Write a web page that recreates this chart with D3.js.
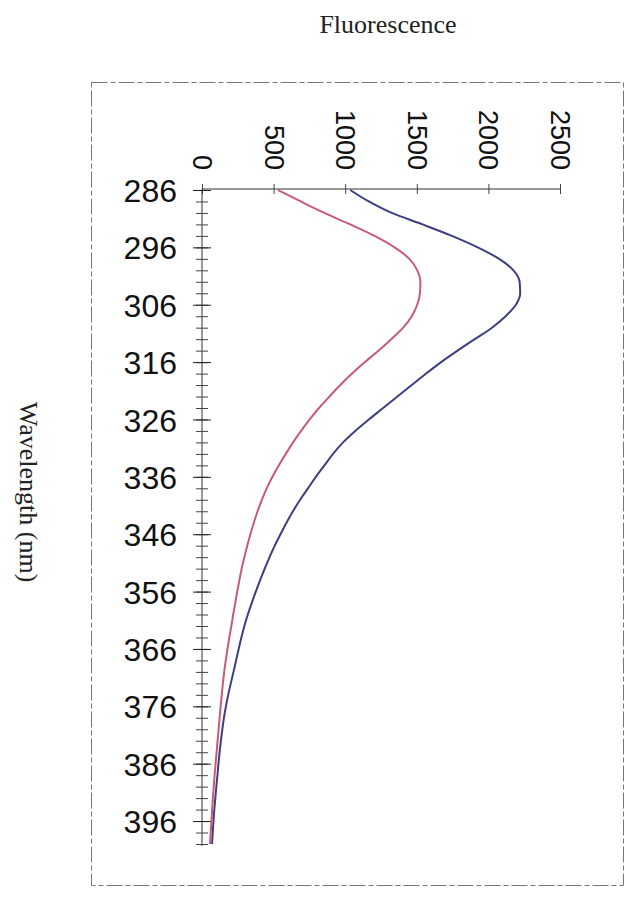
<!DOCTYPE html>
<html lang="en">
    <head>
        <meta charset="UTF-8" />
        <title>Fluorescence</title>
        <script src="https://d3js.org/d3.v7.min.js"></script>
        <style>
            body {
                margin: 0;
                background: #fff;
            }
            .tick-label {
                font-family: "Liberation Sans", Arial, sans-serif;
                fill: #111;
            }
            .axis-title {
                font-family: "Liberation Serif", "Times New Roman", serif;
                fill: #222;
            }
        </style>
    </head>
    <body>
        <svg id="chart" width="628" height="901"></svg>
        <script>
            // wavelength (nm), sampled every 2 nm
            const wavelengths = d3.range(286, 401, 2);

            // blue trace (upper)
            const blueValues = [
                1035, 1165, 1325, 1540, 1745, 1925, 2075, 2175, 2218, 2222,
                2192, 2120, 2025, 1905, 1785, 1670, 1565, 1465, 1365, 1265,
                1165, 1070, 985, 915, 855, 795, 740, 685, 635, 590,
                548, 508, 472, 438, 406, 376, 347, 320, 296, 275,
                256, 238, 220, 201, 183, 167, 153, 142, 132, 123,
                115, 108, 100, 93, 86, 80, 75, 70,
            ];

            // red trace (lower)
            const redValues = [
                531, 690, 855, 1035, 1205, 1345, 1448, 1503, 1525, 1522,
                1503, 1465, 1405, 1322, 1232, 1138, 1048, 966, 890, 817,
                752, 692, 636, 585, 537, 492, 452, 418, 388, 362,
                338, 316, 296, 277, 261, 246, 232, 218, 205, 191,
                178, 166, 155, 146, 138, 130, 123, 116, 109, 102,
                95, 88, 82, 76, 71, 66, 61, 56,
            ];

            const fluorTicks = [0, 500, 1000, 1500, 2000, 2500];
            const waveLabels = [286, 296, 306, 316, 326, 336, 346, 356, 366, 376, 386, 396];
            const waveMinor = d3.range(286, 401, 2);

            const svg = d3.select("#chart");

            // outer chart frame (scanned, broken line)
            svg.append("rect")
                .attr("x", 91.5)
                .attr("y", 82.5)
                .attr("width", 532)
                .attr("height", 803)
                .attr("fill", "none")
                .attr("stroke", "#777")
                .attr("stroke-width", 1)
                .attr("stroke-dasharray", "16 3 5 3");

            const x = d3.scaleLinear().domain([0, 2500]).range([202, 560]);
            const y = d3.scaleLinear().domain([286, 400]).range([190, 844]);

            // fluorescence axis along the top
            const xAxis = svg.append("g")
                .attr("transform", "translate(0,189)")
                .call(d3.axisTop(x).tickValues(fluorTicks).tickSize(5).tickFormat(""));
            xAxis.select(".domain").attr("stroke", "#333").attr("d", `M${x(0)},0H${x(2500)}`);
            xAxis.selectAll(".tick line").attr("y1", 5).attr("y2", -5).attr("stroke", "#444");

            xAxis.selectAll(".tick")
                .append("text")
                .attr("class", "tick-label")
                .attr("transform", "translate(0,-19) rotate(90)")
                .attr("text-anchor", "end")
                .attr("dy", "0.35em")
                .attr("fill", "#111")
                .style("font-size", "27px")
                .text((d) => d);

            // wavelength axis down the left
            const yMinor = svg.append("g")
                .attr("transform", "translate(202,0)")
                .call(d3.axisLeft(y).tickValues(waveMinor).tickSize(6).tickFormat(""));
            yMinor.select(".domain").attr("stroke", "#333").attr("d", `M0,${y(286) - 1}V${y(400) + 2}`);
            yMinor.selectAll(".tick line").attr("x1", -6).attr("x2", 6).attr("stroke", "#444");

            const yAxis = svg.append("g")
                .attr("transform", "translate(202,0)")
                .call(d3.axisLeft(y).tickValues(waveLabels).tickSize(0).tickPadding(25));
            yAxis.select(".domain").remove();
            yAxis.selectAll(".tick line")
                .attr("x1", -9)
                .attr("x2", 9)
                .attr("stroke", "#222");
            yAxis.selectAll(".tick text")
                .attr("class", "tick-label")
                .attr("fill", "#111")
                .style("font-size", "32px")
                .attr("dy", "0.36em");

            // traces
            const line = (vals) =>
                d3.line()
                    .x((d, i) => x(vals[i]))
                    .y((d) => y(d))
                    .curve(d3.curveMonotoneY)(wavelengths);

            svg.append("path")
                .attr("d", line(blueValues))
                .attr("fill", "none")
                .attr("stroke", "#3d3f82")
                .attr("stroke-width", 2);

            svg.append("path")
                .attr("d", line(redValues))
                .attr("fill", "none")
                .attr("stroke", "#c85a76")
                .attr("stroke-width", 2);

            // titles
            svg.append("text")
                .attr("class", "axis-title")
                .attr("x", 388)
                .attr("y", 33)
                .attr("text-anchor", "middle")
                .style("font-size", "26px")
                .text("Fluorescence");

            svg.append("text")
                .attr("class", "axis-title")
                .attr("transform", "translate(29,492) rotate(90)")
                .attr("text-anchor", "middle")
                .attr("dy", "0.35em")
                .style("font-size", "26px")
                .text("Wavelength (nm)");
        </script>
    </body>
</html>
